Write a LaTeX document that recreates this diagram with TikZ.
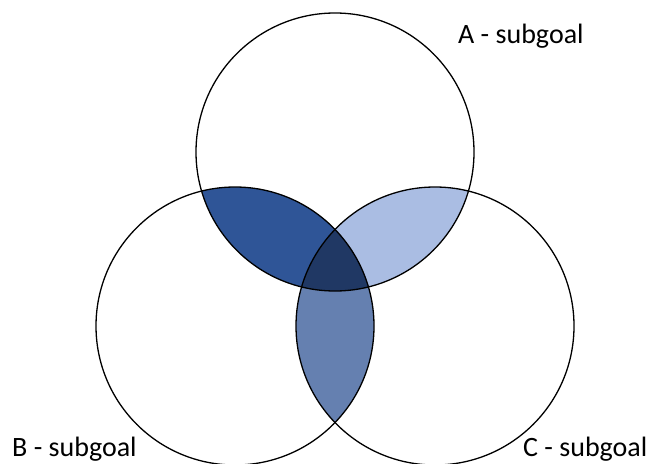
\documentclass[tikz,border=0pt]{standalone}
\usepackage{fontspec}
\setmainfont{Carlito}
\usepackage{xcolor}
\definecolor{blueab}{HTML}{2F5597}
\definecolor{blueac}{HTML}{AABDE3}
\definecolor{bluebc}{HTML}{6580B0}
\definecolor{blueabc}{HTML}{203864}
\tikzset{
  ring/.style={draw=black, line width=1.3pt},
  setlbl/.style={anchor=base west, inner sep=0pt, font=\fontsize{28}{33}\selectfont}
}
\begin{document}
\begin{tikzpicture}[x=1pt,y=-1pt]
  \useasboundingbox (0,0) rectangle (652,463);
  \def\rad{139}

  % centres of the three sets
  \coordinate (cA) at (335,152);
  \coordinate (cB) at (235,326);
  \coordinate (cC) at (435,326);

  % pairwise overlaps
  \begin{scope}
    \clip (cA) circle (\rad);
    \fill[blueab] (cB) circle (\rad);
  \end{scope}
  \begin{scope}
    \clip (cA) circle (\rad);
    \fill[blueac] (cC) circle (\rad);
  \end{scope}
  \begin{scope}
    \clip (cB) circle (\rad);
    \fill[bluebc] (cC) circle (\rad);
  \end{scope}
  % all three
  \begin{scope}
    \clip (cA) circle (\rad);
    \clip (cB) circle (\rad);
    \fill[blueabc] (cC) circle (\rad);
  \end{scope}

  % outlines
  \foreach \c in {cA,cB,cC} {
    \draw[ring] (\c) circle (\rad);
  }

  % labels
  \node[setlbl] (lblA) at (458,43) {A - subgoal};
  \node[setlbl] (lblB) at (12,456) {B - subgoal};
  \node[setlbl] (lblC) at (523,456) {C - subgoal};
\end{tikzpicture}
\end{document}
